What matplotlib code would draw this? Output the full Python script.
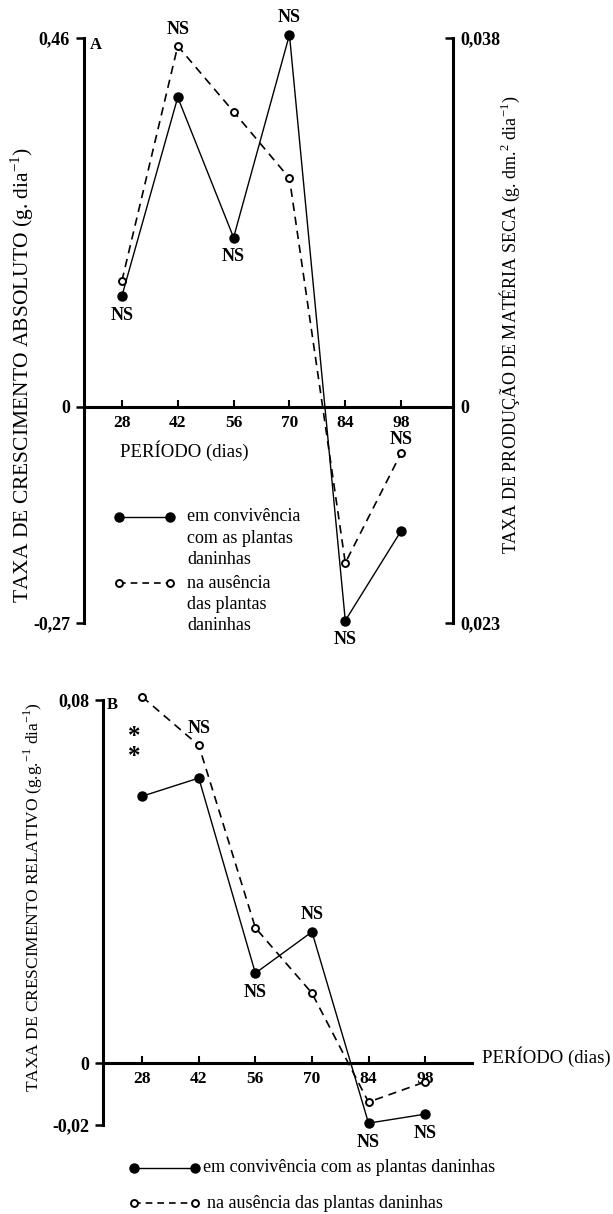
import numpy as np
import matplotlib
matplotlib.use('Agg')
from matplotlib import pyplot as plt
from matplotlib.lines import Line2D

plt.rcParams['font.family'] = ['Liberation Serif', 'DejaVu Serif']
plt.rcParams['mathtext.fontset'] = 'custom'
plt.rcParams['mathtext.rm'] = 'Liberation Serif'

# dados
dias = [28, 42, 56, 70, 84, 98]

# painel A - taxa de crescimento absoluto (g dia-1)
a_convivencia = [0.138, 0.386, 0.211, 0.464, -0.267, -0.155]
a_ausencia = [0.157, 0.450, 0.368, 0.285, -0.195, -0.058]
a_yticks = [-0.27, 0, 0.46]
a_yticklabels = ['-0,27', '0', '0,46']
a_right_ticklabels = ['0,023', '0', '0,038']
# (dia, serie, lado) onde aparece "NS"
a_ns = [(28, 'c', 'below'), (42, 'a', 'above'), (56, 'c', 'below'),
        (70, 'c', 'above'), (84, 'c', 'below'), (98, 'a', 'above')]

# painel B - taxa de crescimento relativo (g g-1 dia-1)
b_convivencia = [0.0588, 0.0628, 0.0198, 0.0289, -0.0194, -0.0165]
b_ausencia = [0.0807, 0.0700, 0.0298, 0.0154, -0.0126, -0.0061]
b_yticks = [-0.02, 0, 0.08]
b_yticklabels = ['-0,02', '0', '0,08']
b_ns = [(42, 'a', 'above'), (56, 'c', 'below'), (70, 'c', 'above'),
        (84, 'c', 'below'), (98, 'c', 'below')]

xticklabels = [str(d) for d in dias]

W, H = 613, 1214
fig = plt.figure(figsize=(W / 100, H / 100), dpi=100)


def box(x0, y0, x1, y1):
    return [x0 / W, 1 - y1 / H, (x1 - x0) / W, (y1 - y0) / H]


def fx(x):
    return x / W


def fy(y):
    return 1 - y / H


def series(ax, y_c, y_a):
    ax.plot(dias, y_c, '-', color='black', lw=1.0, marker='o', ms=6.5,
            mfc='black', mec='black', zorder=3, clip_on=False)
    ax.plot(dias, y_a, '--', color='black', lw=1.2, dashes=(5, 3.5), marker='o',
            ms=5, mfc='white', mec='black', mew=1.4, zorder=4, clip_on=False)


def put_ns(ax, ns, y_c, y_a, dx=0, up=17):
    for d, s, side in ns:
        i = dias.index(d)
        v = y_c[i] if s == 'c' else y_a[i]
        off = up if side == 'above' else -19
        if d == 98 and side == 'above':
            off = 14
        ax.annotate('NS', xy=(d, v), xytext=(dx, off), textcoords='offset pixels',
                    ha='center', va='center', fontsize=13, fontweight='bold',
                    annotation_clip=False)


def style_axes(ax):
    for sp in ['top', 'right']:
        ax.spines[sp].set_visible(False)
    ax.spines['left'].set_linewidth(2.2)
    ax.spines['bottom'].set_linewidth(2.2)
    ax.spines['bottom'].set_position(('data', 0))
    ax.set_xticks(dias)
    ax.set_xticklabels(xticklabels)
    ax.tick_params(axis='x', direction='in', length=5, width=1.5, pad=6, labelsize=12.5)
    ax.tick_params(axis='y', direction='out', length=6, width=1.8, pad=4, labelsize=13)
    for lab in ax.get_xticklabels() + ax.get_yticklabels():
        lab.set_fontweight('bold')
    ax.patch.set_visible(False)


def legend_entry(x0, x1, y, filled, lines, tx, line_h=21.5):
    if filled:
        ln = Line2D([fx(x0), fx(x1)], [fy(y), fy(y)], transform=fig.transFigure,
                    color='black', lw=1.0, marker='o', ms=6.5, mfc='black', mec='black')
    else:
        ln = Line2D([fx(x0), fx(x1)], [fy(y), fy(y)], transform=fig.transFigure,
                    color='black', lw=1.2, ls='--', dashes=(4, 3), marker='o', ms=5,
                    mfc='white', mec='black', mew=1.4)
    fig.add_artist(ln)
    for k, t in enumerate(lines):
        fig.text(fx(tx), fy(y + k * line_h), t, ha='left', va='center', fontsize=13)


# ---------- painel A ----------
axA = fig.add_axes(box(84, 38, 453, 623))
axA.set_xlim(18.5, 111)
axA.set_ylim(-0.27, 0.46)
style_axes(axA)
axA.set_yticks(a_yticks)
axA.set_yticklabels(a_yticklabels, fontweight='bold')
series(axA, a_convivencia, a_ausencia)
put_ns(axA, a_ns, a_convivencia, a_ausencia)

axA2 = axA.twinx()
axA2.set_ylim(-0.27, 0.46)
for sp in ['top', 'left', 'bottom']:
    axA2.spines[sp].set_visible(False)
axA2.spines['right'].set_linewidth(2.2)
axA2.set_yticks(a_yticks)
axA2.set_yticklabels(a_right_ticklabels, fontweight='bold')
axA2.tick_params(axis='y', direction='in', length=6, width=1.8, pad=5, labelsize=13)

fig.text(fx(96), fy(45), 'A', fontsize=12, fontweight='bold', ha='center', va='center')
fig.text(fx(120), fy(451), 'PERÍODO (dias)', fontsize=13.5, ha='left', va='center')
fig.text(fx(22), fy(375), r'TAXA DE CRESCIMENTO ABSOLUTO (g. dia$^{-1}$)',
         rotation=90, ha='center', va='center', fontsize=15.5)
fig.text(fx(510), fy(325), r'TAXA DE PRODUÇÃO DE MATÉRIA SECA (g. dm.$^{2}$ dia$^{-1}$)',
         rotation=90, ha='center', va='center', fontsize=13)

legend_entry(119, 170, 517, True, ['em convivência', 'com as plantas', 'daninhas'], 187)
legend_entry(119, 170, 583, False, ['na ausência', 'das plantas', 'daninhas'], 187)

# ---------- painel B ----------
neg_ratio = 0.683


def fwd(y):
    y = np.asarray(y, dtype=float)
    return np.where(y < 0, y * neg_ratio, y)


def inv(t):
    t = np.asarray(t, dtype=float)
    return np.where(t < 0, t / neg_ratio, t)


axB = fig.add_axes(box(103, 700, 472, 1125))
axB.set_yscale('function', functions=(fwd, inv))
axB.set_xlim(18.3, 109.6)
axB.set_ylim(-0.02, 0.08)
style_axes(axB)
axB.set_yticks(b_yticks)
axB.set_yticklabels(b_yticklabels, fontweight='bold')
axB.minorticks_off()
series(axB, b_convivencia, b_ausencia)
put_ns(axB, b_ns, b_convivencia, b_ausencia)

# asteriscos de significancia em 28 dias
i28 = dias.index(28)
axB.annotate('*\n*', xy=(28, b_ausencia[i28]), xytext=(-8, -50), textcoords='offset pixels',
             ha='center', va='center', fontsize=18, fontweight='bold', linespacing=0.85,
             annotation_clip=False)

fig.text(fx(112), fy(705), 'B', fontsize=12, fontweight='bold', ha='center', va='center')
fig.text(fx(482), fy(1057), 'PERÍODO (dias)', fontsize=13.5, ha='left', va='center')
fig.text(fx(33), fy(897), r'TAXA DE CRESCIMENTO RELATIVO (g.g.$^{-1}$ dia$^{-1}$)',
         rotation=90, ha='center', va='center', fontsize=12.5)

legend_entry(134, 195, 1168, True, ['em convivência com as plantas daninhas'], 203)
legend_entry(134, 195, 1203, False, ['na ausência das plantas daninhas'], 207)

fig.savefig('out.png', dpi=100)
